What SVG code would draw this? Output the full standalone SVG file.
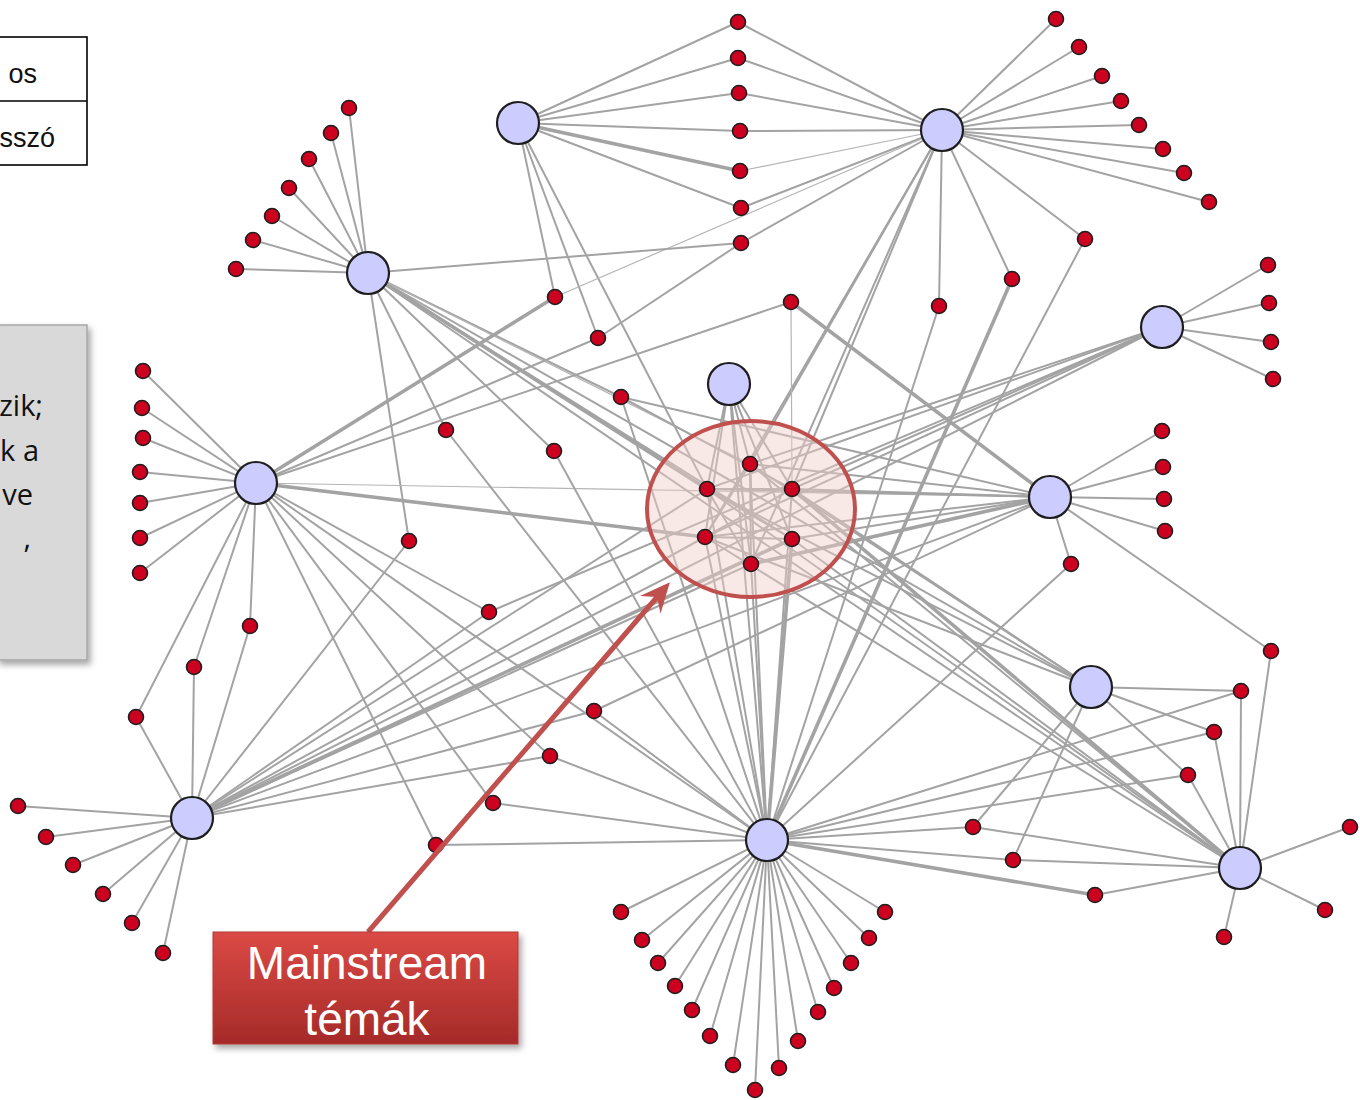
<svg xmlns="http://www.w3.org/2000/svg" width="1360" height="1100" viewBox="0 0 1360 1100">
<defs>
<style>
.e{stroke:#a3a3a3;stroke-width:2;fill:none}
.t{stroke:#a3a3a3;stroke-width:3.6;fill:none}
.f{stroke:#b5b5b5;stroke-width:1.2;fill:none}
.h{fill:#ccccff;stroke:#1e1e1e;stroke-width:2.2}
.s{fill:#cc001f;stroke:#1e1e1e;stroke-width:1.6}
.lbl{font-family:"Liberation Sans",Arial,sans-serif;fill:#ffffff;font-size:46px;text-anchor:middle}
.gt{font-family:"Open Sans","Liberation Sans",sans-serif;fill:#111;font-size:29px;text-anchor:end}
.tt{font-family:"Liberation Sans","DejaVu Sans",sans-serif;fill:#111;font-size:27px;text-anchor:end}
</style>
<linearGradient id="rg" x1="0" y1="0" x2="0" y2="1">
<stop offset="0" stop-color="#db4a45"/>
<stop offset="1" stop-color="#a52a28"/>
</linearGradient>
<filter id="sh" x="-10%" y="-10%" width="130%" height="130%">
<feDropShadow dx="3" dy="4" stdDeviation="3" flood-color="#000" flood-opacity="0.35"/>
</filter>
<marker id="ah" viewBox="0 0 10 10" refX="7" refY="5" markerWidth="6" markerHeight="6" orient="auto" markerUnits="strokeWidth">
<path d="M0,0.5 L10,5 L0,9.5 L3.5,5 Z" fill="#c0504d"/>
</marker>
</defs>
<rect width="1360" height="1100" fill="#ffffff"/>

<g id="legend-table">
<rect x="-3" y="37" width="90" height="128" fill="#fff" stroke="#000" stroke-width="1.6"/>
<line x1="-3" y1="101" x2="87" y2="101" stroke="#000" stroke-width="1.6"/>
<text class="tt" x="37" y="83">os</text>
<text class="tt" x="55" y="147">sszó</text>
</g>

<g id="note-box">
<rect x="-3" y="325" width="90" height="335" fill="#d9d9d9" stroke="#a6a6a6" stroke-width="1.5" filter="url(#sh)"/>
<text class="gt" x="43" y="416">zik;</text>
<text class="gt" x="39" y="461">k a</text>
<text class="gt" x="33" y="505">ve</text>
<text class="gt" x="31" y="548">,</text>
</g>

<g id="connectors">
<line class="e" x1="518" y1="123" x2="738" y2="22"/>
<line class="e" x1="518" y1="123" x2="738" y2="58"/>
<line class="e" x1="518" y1="123" x2="739" y2="93"/>
<line class="e" x1="518" y1="123" x2="740" y2="131"/>
<line class="t" x1="518" y1="123" x2="740" y2="171"/>
<line class="e" x1="518" y1="123" x2="741" y2="208"/>
<line class="e" x1="518" y1="123" x2="555" y2="297"/>
<line class="e" x1="518" y1="123" x2="598" y2="338"/>
<line class="e" x1="518" y1="123" x2="707" y2="489"/>
<line class="e" x1="942" y1="130" x2="1056" y2="19"/>
<line class="e" x1="942" y1="130" x2="1079" y2="47"/>
<line class="e" x1="942" y1="130" x2="1102" y2="76"/>
<line class="e" x1="942" y1="130" x2="1121" y2="101"/>
<line class="e" x1="942" y1="130" x2="1139" y2="125"/>
<line class="e" x1="942" y1="130" x2="1163" y2="149"/>
<line class="e" x1="942" y1="130" x2="1184" y2="173"/>
<line class="e" x1="942" y1="130" x2="1209" y2="202"/>
<line class="e" x1="942" y1="130" x2="1085" y2="239"/>
<line class="e" x1="942" y1="130" x2="939" y2="306"/>
<line class="e" x1="942" y1="130" x2="1012" y2="279"/>
<line class="e" x1="942" y1="130" x2="738" y2="22"/>
<line class="e" x1="942" y1="130" x2="738" y2="58"/>
<line class="e" x1="942" y1="130" x2="739" y2="93"/>
<line class="e" x1="942" y1="130" x2="740" y2="131"/>
<line class="f" x1="942" y1="130" x2="740" y2="171"/>
<line class="e" x1="942" y1="130" x2="741" y2="208"/>
<line class="e" x1="942" y1="130" x2="741" y2="243"/>
<line class="f" x1="942" y1="130" x2="555" y2="297"/>
<line class="e" x1="942" y1="130" x2="750" y2="464"/>
<line class="e" x1="942" y1="130" x2="792" y2="489"/>
<line class="e" x1="942" y1="130" x2="705" y2="537"/>
<line class="e" x1="942" y1="130" x2="751" y2="564"/>
<line class="e" x1="368" y1="273" x2="349" y2="108"/>
<line class="e" x1="368" y1="273" x2="331" y2="133"/>
<line class="e" x1="368" y1="273" x2="309" y2="159"/>
<line class="e" x1="368" y1="273" x2="289" y2="188"/>
<line class="e" x1="368" y1="273" x2="272" y2="216"/>
<line class="e" x1="368" y1="273" x2="253" y2="240"/>
<line class="e" x1="368" y1="273" x2="236" y2="269"/>
<line class="e" x1="368" y1="273" x2="741" y2="243"/>
<line class="e" x1="368" y1="273" x2="409" y2="541"/>
<line class="e" x1="368" y1="273" x2="446" y2="430"/>
<line class="e" x1="368" y1="273" x2="621" y2="397"/>
<line class="e" x1="368" y1="273" x2="554" y2="451"/>
<line class="t" x1="368" y1="273" x2="707" y2="489"/>
<line class="f" x1="368" y1="273" x2="750" y2="464"/>
<line class="e" x1="368" y1="273" x2="792" y2="539"/>
<line class="e" x1="368" y1="273" x2="1091" y2="687"/>
<line class="e" x1="256" y1="483" x2="143" y2="371"/>
<line class="e" x1="256" y1="483" x2="142" y2="408"/>
<line class="e" x1="256" y1="483" x2="143" y2="438"/>
<line class="e" x1="256" y1="483" x2="140" y2="472"/>
<line class="e" x1="256" y1="483" x2="140" y2="503"/>
<line class="e" x1="256" y1="483" x2="140" y2="538"/>
<line class="e" x1="256" y1="483" x2="140" y2="573"/>
<line class="e" x1="256" y1="483" x2="250" y2="626"/>
<line class="e" x1="256" y1="483" x2="194" y2="667"/>
<line class="e" x1="256" y1="483" x2="136" y2="717"/>
<line class="t" x1="256" y1="483" x2="555" y2="297"/>
<line class="e" x1="256" y1="483" x2="598" y2="338"/>
<line class="e" x1="256" y1="483" x2="791" y2="302"/>
<line class="f" x1="256" y1="483" x2="1050" y2="497"/>
<line class="t" x1="256" y1="483" x2="705" y2="537"/>
<line class="e" x1="256" y1="483" x2="489" y2="612"/>
<line class="e" x1="256" y1="483" x2="550" y2="756"/>
<line class="e" x1="256" y1="483" x2="493" y2="803"/>
<line class="e" x1="256" y1="483" x2="436" y2="845"/>
<line class="e" x1="256" y1="483" x2="767" y2="840"/>
<line class="e" x1="192" y1="818" x2="18" y2="806"/>
<line class="e" x1="192" y1="818" x2="46" y2="837"/>
<line class="e" x1="192" y1="818" x2="73" y2="865"/>
<line class="e" x1="192" y1="818" x2="103" y2="894"/>
<line class="e" x1="192" y1="818" x2="132" y2="923"/>
<line class="e" x1="192" y1="818" x2="163" y2="953"/>
<line class="e" x1="192" y1="818" x2="136" y2="717"/>
<line class="e" x1="192" y1="818" x2="194" y2="667"/>
<line class="e" x1="192" y1="818" x2="250" y2="626"/>
<line class="e" x1="192" y1="818" x2="409" y2="541"/>
<line class="e" x1="192" y1="818" x2="489" y2="612"/>
<line class="e" x1="192" y1="818" x2="705" y2="537"/>
<line class="e" x1="192" y1="818" x2="751" y2="564"/>
<line class="t" x1="192" y1="818" x2="792" y2="539"/>
<line class="e" x1="192" y1="818" x2="707" y2="489"/>
<line class="e" x1="192" y1="818" x2="1162" y2="327"/>
<line class="e" x1="192" y1="818" x2="1050" y2="497"/>
<line class="e" x1="192" y1="818" x2="594" y2="711"/>
<line class="e" x1="192" y1="818" x2="550" y2="756"/>
<line class="e" x1="767" y1="840" x2="621" y2="912"/>
<line class="e" x1="767" y1="840" x2="642" y2="940"/>
<line class="e" x1="767" y1="840" x2="658" y2="963"/>
<line class="e" x1="767" y1="840" x2="675" y2="986"/>
<line class="e" x1="767" y1="840" x2="692" y2="1010"/>
<line class="e" x1="767" y1="840" x2="710" y2="1036"/>
<line class="e" x1="767" y1="840" x2="733" y2="1065"/>
<line class="e" x1="767" y1="840" x2="755" y2="1090"/>
<line class="e" x1="767" y1="840" x2="779" y2="1068"/>
<line class="e" x1="767" y1="840" x2="798" y2="1041"/>
<line class="e" x1="767" y1="840" x2="818" y2="1012"/>
<line class="e" x1="767" y1="840" x2="834" y2="988"/>
<line class="e" x1="767" y1="840" x2="851" y2="963"/>
<line class="e" x1="767" y1="840" x2="869" y2="938"/>
<line class="e" x1="767" y1="840" x2="885" y2="912"/>
<line class="e" x1="767" y1="840" x2="973" y2="827"/>
<line class="e" x1="767" y1="840" x2="1013" y2="860"/>
<line class="t" x1="767" y1="840" x2="1095" y2="895"/>
<line class="e" x1="767" y1="840" x2="436" y2="845"/>
<line class="e" x1="767" y1="840" x2="493" y2="803"/>
<line class="e" x1="767" y1="840" x2="550" y2="756"/>
<line class="e" x1="767" y1="840" x2="594" y2="711"/>
<line class="e" x1="767" y1="840" x2="446" y2="430"/>
<line class="e" x1="767" y1="840" x2="554" y2="451"/>
<line class="t" x1="767" y1="840" x2="1012" y2="279"/>
<line class="e" x1="767" y1="840" x2="939" y2="306"/>
<line class="e" x1="767" y1="840" x2="1085" y2="239"/>
<line class="e" x1="767" y1="840" x2="1071" y2="564"/>
<line class="e" x1="767" y1="840" x2="1241" y2="691"/>
<line class="e" x1="767" y1="840" x2="1214" y2="732"/>
<line class="e" x1="767" y1="840" x2="1188" y2="775"/>
<line class="e" x1="767" y1="840" x2="750" y2="464"/>
<line class="e" x1="767" y1="840" x2="707" y2="489"/>
<line class="e" x1="767" y1="840" x2="792" y2="489"/>
<line class="e" x1="767" y1="840" x2="705" y2="537"/>
<line class="t" x1="767" y1="840" x2="792" y2="539"/>
<line class="e" x1="767" y1="840" x2="751" y2="564"/>
<line class="e" x1="767" y1="840" x2="729" y2="384"/>
<line class="e" x1="767" y1="840" x2="621" y2="397"/>
<line class="e" x1="1240" y1="868" x2="1350" y2="827"/>
<line class="e" x1="1240" y1="868" x2="1325" y2="910"/>
<line class="e" x1="1240" y1="868" x2="1224" y2="937"/>
<line class="e" x1="1240" y1="868" x2="1271" y2="651"/>
<line class="e" x1="1240" y1="868" x2="1241" y2="691"/>
<line class="e" x1="1240" y1="868" x2="1214" y2="732"/>
<line class="e" x1="1240" y1="868" x2="1188" y2="775"/>
<line class="e" x1="1240" y1="868" x2="973" y2="827"/>
<line class="e" x1="1240" y1="868" x2="1013" y2="860"/>
<line class="e" x1="1240" y1="868" x2="1095" y2="895"/>
<line class="t" x1="1240" y1="868" x2="792" y2="489"/>
<line class="e" x1="1240" y1="868" x2="792" y2="539"/>
<line class="e" x1="1240" y1="868" x2="707" y2="489"/>
<line class="e" x1="1240" y1="868" x2="750" y2="464"/>
<line class="e" x1="1240" y1="868" x2="705" y2="537"/>
<line class="e" x1="1240" y1="868" x2="368" y2="273"/>
<line class="e" x1="1091" y1="687" x2="1241" y2="691"/>
<line class="e" x1="1091" y1="687" x2="1214" y2="732"/>
<line class="e" x1="1091" y1="687" x2="1188" y2="775"/>
<line class="e" x1="1091" y1="687" x2="973" y2="827"/>
<line class="e" x1="1091" y1="687" x2="1013" y2="860"/>
<line class="e" x1="1091" y1="687" x2="750" y2="464"/>
<line class="e" x1="1091" y1="687" x2="707" y2="489"/>
<line class="e" x1="1091" y1="687" x2="705" y2="537"/>
<line class="e" x1="1091" y1="687" x2="792" y2="489"/>
<line class="e" x1="1050" y1="497" x2="1162" y2="431"/>
<line class="e" x1="1050" y1="497" x2="1163" y2="467"/>
<line class="e" x1="1050" y1="497" x2="1164" y2="499"/>
<line class="e" x1="1050" y1="497" x2="1165" y2="531"/>
<line class="e" x1="1050" y1="497" x2="1071" y2="564"/>
<line class="e" x1="1050" y1="497" x2="1271" y2="651"/>
<line class="t" x1="1050" y1="497" x2="791" y2="302"/>
<line class="e" x1="1050" y1="497" x2="594" y2="711"/>
<line class="e" x1="1050" y1="497" x2="750" y2="464"/>
<line class="e" x1="1050" y1="497" x2="707" y2="489"/>
<line class="e" x1="1050" y1="497" x2="792" y2="489"/>
<line class="e" x1="1050" y1="497" x2="705" y2="537"/>
<line class="e" x1="1050" y1="497" x2="792" y2="539"/>
<line class="t" x1="1050" y1="497" x2="751" y2="564"/>
<line class="e" x1="1050" y1="497" x2="621" y2="397"/>
<line class="e" x1="1162" y1="327" x2="1268" y2="265"/>
<line class="e" x1="1162" y1="327" x2="1269" y2="303"/>
<line class="e" x1="1162" y1="327" x2="1271" y2="342"/>
<line class="e" x1="1162" y1="327" x2="1273" y2="379"/>
<line class="e" x1="1162" y1="327" x2="750" y2="464"/>
<line class="e" x1="1162" y1="327" x2="707" y2="489"/>
<line class="e" x1="1162" y1="327" x2="792" y2="489"/>
<line class="e" x1="1162" y1="327" x2="705" y2="537"/>
<line class="e" x1="1162" y1="327" x2="489" y2="612"/>
<line class="e" x1="729" y1="384" x2="750" y2="464"/>
<line class="e" x1="729" y1="384" x2="707" y2="489"/>
<line class="e" x1="729" y1="384" x2="792" y2="489"/>
<line class="e" x1="729" y1="384" x2="705" y2="537"/>
<line class="e" x1="729" y1="384" x2="792" y2="539"/>
<line class="e" x1="729" y1="384" x2="751" y2="564"/>
<line class="f" x1="791" y1="302" x2="792" y2="489"/>
<line class="e" x1="598" y1="338" x2="741" y2="243"/>
<line class="e" x1="621" y1="397" x2="792" y2="489"/>
<line class="e" x1="707" y1="489" x2="792" y2="489"/>
<line class="e" x1="705" y1="537" x2="792" y2="539"/>
<line class="e" x1="750" y1="464" x2="751" y2="564"/>
<line class="e" x1="707" y1="489" x2="792" y2="539"/>
<line class="e" x1="792" y1="489" x2="705" y2="537"/>
<line class="e" x1="750" y1="464" x2="705" y2="537"/>
<line class="e" x1="707" y1="489" x2="751" y2="564"/>
</g>

<g id="mainstream-region">
<ellipse cx="751" cy="509" rx="104" ry="88" fill="#f0cfca" fill-opacity="0.45" stroke="#c0504d" stroke-width="4"/>
</g>

<g id="hubs">
<g id="H1"><circle class="h" cx="518" cy="123" r="21"/></g>
<g id="H2"><circle class="h" cx="942" cy="130" r="21"/></g>
<g id="H3"><circle class="h" cx="368" cy="273" r="21"/></g>
<g id="H4"><circle class="h" cx="1162" cy="327" r="21"/></g>
<g id="H5"><circle class="h" cx="729" cy="384" r="21"/></g>
<g id="H6"><circle class="h" cx="256" cy="483" r="21"/></g>
<g id="H7"><circle class="h" cx="1050" cy="497" r="21"/></g>
<g id="H8"><circle class="h" cx="1091" cy="687" r="21"/></g>
<g id="H9"><circle class="h" cx="192" cy="818" r="21"/></g>
<g id="H10"><circle class="h" cx="767" cy="840" r="21"/></g>
<g id="H11"><circle class="h" cx="1240" cy="868" r="21"/></g>
</g>

<g id="keywords">
<g id="k1"><circle class="s" cx="738" cy="22" r="7.5"/></g>
<g id="k2"><circle class="s" cx="738" cy="58" r="7.5"/></g>
<g id="k3"><circle class="s" cx="739" cy="93" r="7.5"/></g>
<g id="k4"><circle class="s" cx="740" cy="131" r="7.5"/></g>
<g id="k5"><circle class="s" cx="740" cy="171" r="7.5"/></g>
<g id="k6"><circle class="s" cx="741" cy="208" r="7.5"/></g>
<g id="k7"><circle class="s" cx="741" cy="243" r="7.5"/></g>
<g id="k8"><circle class="s" cx="1056" cy="19" r="7.5"/></g>
<g id="k9"><circle class="s" cx="1079" cy="47" r="7.5"/></g>
<g id="k10"><circle class="s" cx="1102" cy="76" r="7.5"/></g>
<g id="k11"><circle class="s" cx="1121" cy="101" r="7.5"/></g>
<g id="k12"><circle class="s" cx="1139" cy="125" r="7.5"/></g>
<g id="k13"><circle class="s" cx="1163" cy="149" r="7.5"/></g>
<g id="k14"><circle class="s" cx="1184" cy="173" r="7.5"/></g>
<g id="k15"><circle class="s" cx="1209" cy="202" r="7.5"/></g>
<g id="k16"><circle class="s" cx="1085" cy="239" r="7.5"/></g>
<g id="k17"><circle class="s" cx="349" cy="108" r="7.5"/></g>
<g id="k18"><circle class="s" cx="331" cy="133" r="7.5"/></g>
<g id="k19"><circle class="s" cx="309" cy="159" r="7.5"/></g>
<g id="k20"><circle class="s" cx="289" cy="188" r="7.5"/></g>
<g id="k21"><circle class="s" cx="272" cy="216" r="7.5"/></g>
<g id="k22"><circle class="s" cx="253" cy="240" r="7.5"/></g>
<g id="k23"><circle class="s" cx="236" cy="269" r="7.5"/></g>
<g id="k24"><circle class="s" cx="143" cy="371" r="7.5"/></g>
<g id="k25"><circle class="s" cx="142" cy="408" r="7.5"/></g>
<g id="k26"><circle class="s" cx="143" cy="438" r="7.5"/></g>
<g id="k27"><circle class="s" cx="140" cy="472" r="7.5"/></g>
<g id="k28"><circle class="s" cx="140" cy="503" r="7.5"/></g>
<g id="k29"><circle class="s" cx="140" cy="538" r="7.5"/></g>
<g id="k30"><circle class="s" cx="140" cy="573" r="7.5"/></g>
<g id="k31"><circle class="s" cx="1268" cy="265" r="7.5"/></g>
<g id="k32"><circle class="s" cx="1269" cy="303" r="7.5"/></g>
<g id="k33"><circle class="s" cx="1271" cy="342" r="7.5"/></g>
<g id="k34"><circle class="s" cx="1273" cy="379" r="7.5"/></g>
<g id="k35"><circle class="s" cx="1162" cy="431" r="7.5"/></g>
<g id="k36"><circle class="s" cx="1163" cy="467" r="7.5"/></g>
<g id="k37"><circle class="s" cx="1164" cy="499" r="7.5"/></g>
<g id="k38"><circle class="s" cx="1165" cy="531" r="7.5"/></g>
<g id="k39"><circle class="s" cx="1071" cy="564" r="7.5"/></g>
<g id="k40"><circle class="s" cx="18" cy="806" r="7.5"/></g>
<g id="k41"><circle class="s" cx="46" cy="837" r="7.5"/></g>
<g id="k42"><circle class="s" cx="73" cy="865" r="7.5"/></g>
<g id="k43"><circle class="s" cx="103" cy="894" r="7.5"/></g>
<g id="k44"><circle class="s" cx="132" cy="923" r="7.5"/></g>
<g id="k45"><circle class="s" cx="163" cy="953" r="7.5"/></g>
<g id="k46"><circle class="s" cx="621" cy="912" r="7.5"/></g>
<g id="k47"><circle class="s" cx="642" cy="940" r="7.5"/></g>
<g id="k48"><circle class="s" cx="658" cy="963" r="7.5"/></g>
<g id="k49"><circle class="s" cx="675" cy="986" r="7.5"/></g>
<g id="k50"><circle class="s" cx="692" cy="1010" r="7.5"/></g>
<g id="k51"><circle class="s" cx="710" cy="1036" r="7.5"/></g>
<g id="k52"><circle class="s" cx="733" cy="1065" r="7.5"/></g>
<g id="k53"><circle class="s" cx="755" cy="1090" r="7.5"/></g>
<g id="k54"><circle class="s" cx="779" cy="1068" r="7.5"/></g>
<g id="k55"><circle class="s" cx="798" cy="1041" r="7.5"/></g>
<g id="k56"><circle class="s" cx="818" cy="1012" r="7.5"/></g>
<g id="k57"><circle class="s" cx="834" cy="988" r="7.5"/></g>
<g id="k58"><circle class="s" cx="851" cy="963" r="7.5"/></g>
<g id="k59"><circle class="s" cx="869" cy="938" r="7.5"/></g>
<g id="k60"><circle class="s" cx="885" cy="912" r="7.5"/></g>
<g id="k61"><circle class="s" cx="1350" cy="827" r="7.5"/></g>
<g id="k62"><circle class="s" cx="1325" cy="910" r="7.5"/></g>
<g id="k63"><circle class="s" cx="1224" cy="937" r="7.5"/></g>
<g id="k64"><circle class="s" cx="555" cy="297" r="7.5"/></g>
<g id="k65"><circle class="s" cx="598" cy="338" r="7.5"/></g>
<g id="k66"><circle class="s" cx="621" cy="397" r="7.5"/></g>
<g id="k67"><circle class="s" cx="446" cy="430" r="7.5"/></g>
<g id="k68"><circle class="s" cx="554" cy="451" r="7.5"/></g>
<g id="k69"><circle class="s" cx="409" cy="541" r="7.5"/></g>
<g id="k70"><circle class="s" cx="489" cy="612" r="7.5"/></g>
<g id="k71"><circle class="s" cx="250" cy="626" r="7.5"/></g>
<g id="k72"><circle class="s" cx="194" cy="667" r="7.5"/></g>
<g id="k73"><circle class="s" cx="136" cy="717" r="7.5"/></g>
<g id="k74"><circle class="s" cx="594" cy="711" r="7.5"/></g>
<g id="k75"><circle class="s" cx="550" cy="756" r="7.5"/></g>
<g id="k76"><circle class="s" cx="493" cy="803" r="7.5"/></g>
<g id="k77"><circle class="s" cx="436" cy="845" r="7.5"/></g>
<g id="k78"><circle class="s" cx="791" cy="302" r="7.5"/></g>
<g id="k79"><circle class="s" cx="939" cy="306" r="7.5"/></g>
<g id="k80"><circle class="s" cx="1012" cy="279" r="7.5"/></g>
<g id="k81"><circle class="s" cx="1271" cy="651" r="7.5"/></g>
<g id="k82"><circle class="s" cx="1241" cy="691" r="7.5"/></g>
<g id="k83"><circle class="s" cx="1214" cy="732" r="7.5"/></g>
<g id="k84"><circle class="s" cx="1188" cy="775" r="7.5"/></g>
<g id="k85"><circle class="s" cx="973" cy="827" r="7.5"/></g>
<g id="k86"><circle class="s" cx="1013" cy="860" r="7.5"/></g>
<g id="k87"><circle class="s" cx="1095" cy="895" r="7.5"/></g>
<g id="c1"><circle class="s" cx="750" cy="464" r="7.5"/></g>
<g id="c2"><circle class="s" cx="707" cy="489" r="7.5"/></g>
<g id="c3"><circle class="s" cx="792" cy="489" r="7.5"/></g>
<g id="c4"><circle class="s" cx="705" cy="537" r="7.5"/></g>
<g id="c5"><circle class="s" cx="792" cy="539" r="7.5"/></g>
<g id="c6"><circle class="s" cx="751" cy="564" r="7.5"/></g>
</g>

<g id="callout">
<line x1="368" y1="932" x2="664" y2="589" stroke="#c0504d" stroke-width="5" marker-end="url(#ah)"/>
<g id="label-box" filter="url(#sh)">
<rect x="213" y="932" width="305" height="112" fill="url(#rg)" stroke="#b23a36" stroke-width="1"/>
</g>
<text class="lbl" x="367" y="979">Mainstream</text>
<text class="lbl" x="367" y="1035">témák</text>
</g>
</svg>
